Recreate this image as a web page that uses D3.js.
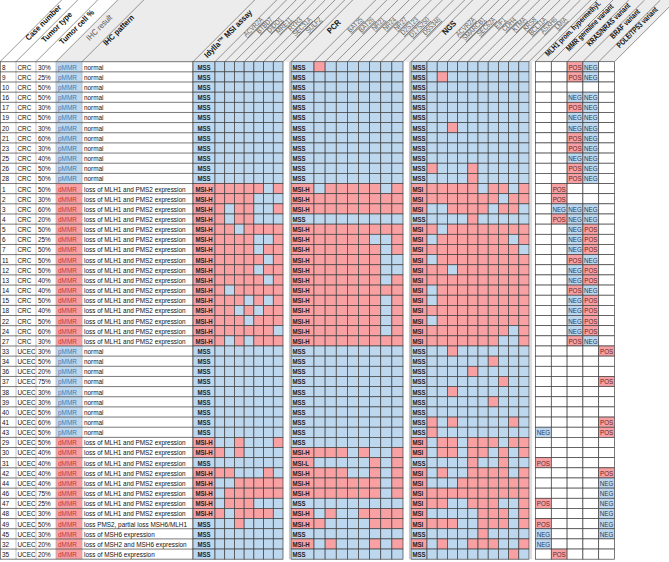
<!DOCTYPE html>
<html><head><meta charset="utf-8">
<script src="https://cdn.jsdelivr.net/npm/d3@7"></script>
<style>
body{margin:0;background:#fff}
svg{display:block}
text{font-family:'Liberation Sans','Arial',sans-serif}
</style>
</head><body>
<svg id="c" width="669" height="562"></svg>
<script>
// ---------------- DATA ----------------
const caseNumbers = [8,9,10,16,17,19,20,21,23,25,26,28,1,2,3,4,5,6,7,11,12,13,14,15,18,22,24,27,33,34,36,37,38,39,40,41,43,29,30,31,42,44,46,47,48,49,45,32,35];
const tumorTypes = ["CRC","CRC","CRC","CRC","CRC","CRC","CRC","CRC","CRC","CRC","CRC","CRC",
  "CRC","CRC","CRC","CRC","CRC","CRC","CRC","CRC","CRC","CRC","CRC","CRC","CRC","CRC","CRC","CRC",
  "UCEC","UCEC","UCEC","UCEC","UCEC","UCEC","UCEC","UCEC","UCEC",
  "UCEC","UCEC","UCEC","UCEC","UCEC","UCEC","UCEC","UCEC","UCEC","UCEC","UCEC","UCEC"];
const tumorCellPct = [30,25,50,50,30,50,30,60,30,40,50,50,
  50,30,60,20,50,25,50,50,50,40,40,50,40,50,60,30,
  30,50,20,75,30,30,50,60,50,
  50,40,40,40,40,75,25,30,50,30,20,20];
const ihcResults = ["pMMR","pMMR","pMMR","pMMR","pMMR","pMMR","pMMR","pMMR","pMMR","pMMR","pMMR","pMMR",
  "dMMR","dMMR","dMMR","dMMR","dMMR","dMMR","dMMR","dMMR","dMMR","dMMR","dMMR","dMMR","dMMR","dMMR","dMMR","dMMR",
  "pMMR","pMMR","pMMR","pMMR","pMMR","pMMR","pMMR","pMMR","pMMR",
  "dMMR","dMMR","dMMR","dMMR","dMMR","dMMR","dMMR","dMMR","dMMR","dMMR","dMMR","dMMR"];
const LMP = "loss of MLH1 and PMS2 expression";
const ihcPatterns = ["normal","normal","normal","normal","normal","normal","normal","normal","normal","normal","normal","normal",
  LMP,LMP,LMP,LMP,LMP,LMP,LMP,LMP,LMP,LMP,LMP,LMP,LMP,LMP,LMP,LMP,
  "normal","normal","normal","normal","normal","normal","normal","normal","normal",
  LMP,LMP,LMP,LMP,LMP,LMP,LMP,LMP,"loss PMS2, partial loss MSH6/MLH1",
  "loss of MSH6 expression","loss of MSH2 and MSH6 expression","loss of MSH6 expression"];

const idyllaMarkers = ["ACVR2A","BTBD7","DIDO1","MRE11","RYR3","SEC31A","SULF2"];
const pcrMarkers = ["BAT25","BAT26","NR21","NR24","NR27","D2S123","D17S250","D5S346"];
const ngsMarkers = ["ACVR2A","SMARCB1","SEC62A","EIF1","CDH4","KTMA","KRS8","BCL11A","ASXH6","LMIA"];

const idyllaResult = ["MSS","MSS","MSS","MSS","MSS","MSS","MSS","MSS","MSS","MSS","MSS","MSS",
  "MSI-H","MSI-H","MSI-H","MSI-H","MSI-H","MSI-H","MSI-H","MSI-H","MSI-H","MSI-H","MSI-H","MSI-H","MSI-H","MSI-H","MSI-H","MSI-H",
  "MSS","MSS","MSS","MSS","MSS","MSS","MSS","MSS","MSS",
  "MSI-H","MSI-H","MSS","MSI-H","MSI-H","MSI-H","MSI-H","MSI-H","MSS","MSS","MSS","MSS"];
const pcrResult = ["MSS","MSS","MSS","MSS","MSS","MSS","MSS","MSS","MSS","MSS","MSS","MSS",
  "MSI-H","MSI-H","MSI-H","MSS","MSI-H","MSI-H","MSI-H","MSI-H","MSI-H","MSI-H","MSI-H","MSI-H","MSI-H","MSI-H","MSI-H","MSI-H",
  "MSS","MSS","MSS","MSS","MSS","MSS","MSS","MSS","MSS",
  "MSS","MSI-H","MSI-L","MSI-H","MSI-H","MSI-H","MSS","MSI-H","MSI-H","MSS","MSI-H","MSS"];
const ngsResult = ["MSS","MSS","MSS","MSS","MSS","MSS","MSS","MSS","MSS","MSS","MSS","MSS",
  "MSI","MSI","MSI","MSS","MSI","MSI","MSI","MSI","MSI","MSI","MSI","MSI","MSI","MSI","MSI","MSI",
  "MSS","MSS","MSS","MSS","MSS","MSS","MSS","MSS","MSS",
  "MSI","MSI","MSS","MSI","MSI","MSI","MSI","MSI","MSI","MSS","MSI","MSS"];

// 1 = unstable (red), 0 = stable (blue)
const idyllaCalls = ["0000000","0000000","0000000","0000000","0000000","0000000","0000000","0000000","0000000","0000000","0000000","0000000",
  "1111101","1111000","1011001","1011000","1101111","1111001","1111011","1111101","1111011","1111101","1011111","1110101","1101011","1110111","1111110","1010111",
  "0000000","0000000","0000000","0000000","0000000","0000000","0000000","0000000","0000000",
  "0010001","1010000","0000000","1100010","0011111","0111111","0111000","1011110","0010000","0000000","0000000","0000000"];
const pcrCalls = ["10000000","00000000","00000000","00000000","00000000","00000000","00000000","00000000","00000000","00000000","00000000","00000000",
  "01111101","11111111","11111111","00000000","11111111","11111001","11111101","11111100","11111100","11111101","11111111","11111101","11111101","11111101","11111101","11111111",
  "00000000","00000000","00000000","00000000","00000000","00000000","00000000","00000000","00000000",
  "00000000","11101001","00000101","11100101","11111101","11111101","00000000","01001111","10000111","00000000","01000101","00000000"];
const ngsCalls = ["0000000000","0100000000","0000000000","0000000000","0000000000","0000000000","0010000000","0000000000","0000000000","0000000000","1000100000","0000100000",
  "1111101101","1111111011","0011110110","0000100000","1011111111","0111111101","1111111110","0111111111","1101111111","1111111111","0111111111","0111111111","1111111111","0111111111","1111111101","1111111001",
  "0010000000","0000001000","0000100000","0000000100","0010000000","0000001000","0000000000","1010000010","1000000000",
  "0110111011","0110110101","0000100100","0100111101","0001111111","1111111111","1100111001","0000011101","1110011101","0000010000","0100111001","0000000010"];

const extraColumns = ["MLH1 prom. hypermethyl.","MMR germline variant","KRAS/NRAS variant","BRAF variant","POLE/TP53 variant"];
const P = "POS", N = "NEG", _ = "";
const mlh1Methylation = [_,_,_,_,_,_,_,_,_,_,_,_, _,_,_,_,_,_,_,_,_,_,_,_,_,_,_,_, _,_,_,_,_,_,_,_,N, _,_,P,_,_,_,P,_,P,N,N,_];
const mmrGermline     = [_,_,_,_,_,_,_,_,_,_,_,_, P,P,N,P,_,_,_,_,_,_,_,_,_,_,_,_, _,_,_,_,_,_,_,_,_, _,_,_,_,_,_,_,_,_,_,_,P];
const krasNras        = [P,P,_,N,P,N,N,P,P,N,P,P, _,_,N,N,N,N,N,P,N,N,P,N,N,N,N,P, _,_,_,_,_,_,_,_,_, _,_,_,_,_,_,_,_,_,_,_,_];
const brafVariant     = [N,N,_,N,N,N,N,N,N,N,N,N, _,_,N,N,P,P,P,N,P,P,N,P,P,P,P,N, _,_,_,_,_,_,_,_,_, _,_,_,_,_,_,_,_,_,_,_,_];
const poleTp53        = [_,_,_,_,_,_,_,_,_,_,_,_, _,_,_,_,_,_,_,_,_,_,_,_,_,_,_,_, P,_,_,P,_,_,_,P,P, _,_,_,P,N,N,N,N,N,N,_,_];
const extraValues = [mlh1Methylation, mmrGermline, krasNras, brafVariant, poleTp53];

// ---------------- DRAW ----------------
const BLUE = "#bdd7ee", RED = "#f9a0a3", GRID = "#404040", LIGHT = "#b5b5b5";
const SX = 0.8; // horizontal condensing (Calibri-like narrow text)
const svg = d3.select("#c");
const nRows = caseNumbers.length;
const HB = 61.7; // header bottom
const y = d3.scaleBand().domain(d3.range(nRows)).range([HB, 559.2]);
const rh = y.bandwidth();
const fs = 8;
const ty = i => y(i) + rh/2 + 2.9;

// --- header ---
const header = svg.append("g");
const hcols = [];
hcols.push({x0:0,x1:16,label:"Case number",bold:true,fill:"#fff",endY:8});
hcols.push({x0:16,x1:36,label:"Tumor type",bold:true,fill:"#fff",endY:15});
hcols.push({x0:36,x1:56,label:"Tumor cell %",bold:true,fill:"#fff",endY:13});
hcols.push({x0:56,x1:82,label:"IHC result",bold:false,fill:"#ececec",endY:18});
hcols.push({x0:82,x1:193,label:"IHC pattern",bold:true,fill:"#ececec",endY:18,ax:91});

const groups = [
  {res:[193,215], mk:[215,283], label:"Idylla™ MSI assay", endY:13, names:idyllaMarkers, resVals:idyllaResult, calls:idyllaCalls, anchor:"middle"},
  {res:[291,314], mk:[314,403], label:"PCR", endY:23, names:pcrMarkers, resVals:pcrResult, calls:pcrCalls, anchor:"start"},
  {res:[411,427], mk:[427,529], label:"NGS", endY:24, names:ngsMarkers, resVals:ngsResult, calls:ngsCalls, anchor:"start"}
];
groups.forEach((g,gi) => {
  g.x = d3.scaleBand().domain(g.names).range(g.mk);
  hcols.push({x0:g.res[0],x1:g.res[1],label:g.label,bold:true,fill:"#ececec",endY:g.endY});
  g.names.forEach(n => hcols.push({x0:g.x(n),x1:g.x(n)+g.x.bandwidth(),label:n,marker:true,fill:"#ececec",endY:20}));
  const nextStart = gi < 2 ? groups[gi+1].res[0] : 535.5;
  hcols.push({x0:g.mk[1],x1:nextStart,label:"",fill:"#ececec"});
});
const xe = d3.scaleBand().domain(extraColumns).range([535.5,614.5]);
const extraEnd = [4,7,6,12,10];
extraColumns.forEach((c,i) => hcols.push({x0:xe(c),x1:xe(c)+xe.bandwidth(),label:c,bold:true,extra:true,fill:"#ececec",endY:extraEnd[i]}));

header.selectAll("path.hp").data(hcols).join("path")
  .attr("d", d => `M${d.x0},${HB}L${d.x1},${HB}L${d.x1+HB},0L${d.x0+HB},0Z`)
  .attr("fill", d => d.fill).attr("stroke","none");
header.selectAll("line.hl").data(hcols.concat([{x0:614.5}])).join("line")
  .attr("x1", d => d.x0).attr("y1", HB).attr("x2", d => d.x0+HB).attr("y2", 0)
  .attr("stroke", "#505050").attr("stroke-width", 0.6);
header.selectAll("text").data(hcols.filter(d => d.label)).join("text")
  .attr("transform", d => {
    const cx = d.ax !== undefined ? d.ax : (d.x0+d.x1)/2;
    const px = cx + (HB - d.endY) + (d.marker ? 2 : 0);
    const s = d.marker ? 0.85 : d.extra ? 0.78 : 0.9;
    return `translate(${px},${d.endY}) rotate(-45) scale(${s},1)`;
  })
  .attr("text-anchor","end")
  .attr("font-size", d => d.marker ? 7.2 : d.extra ? 7.8 : 8.2)
  .attr("font-weight", d => d.bold ? "bold" : "normal")
  .attr("fill", d => d.marker ? "#606060" : (d.bold ? "#111" : "#555"))
  .attr("text-decoration", d => d.marker ? "underline" : null)
  .text(d => d.label);

// --- text columns ---
const body = svg.append("g");
const rows = d3.range(nRows);
body.selectAll("rect.ihc").data(rows).join("rect")
  .attr("x",56).attr("y", i => y(i)).attr("width",26).attr("height",rh)
  .attr("fill", i => ihcResults[i] === "pMMR" ? BLUE : RED);
const textCols = [
  {x:2, vals:caseNumbers},
  {x:17.5, vals:tumorTypes},
  {x:38, vals:tumorCellPct.map(v => v + "%")},
  {x:58, vals:ihcResults, color:i => ihcResults[i] === "pMMR" ? "#4a76a8" : "#c0392b"},
  {x:84, vals:ihcPatterns}
];
textCols.forEach(tc => {
  body.append("g").selectAll("text").data(rows).join("text")
    .attr("transform", i => `translate(${tc.x},${ty(i)}) scale(${SX},1)`)
    .attr("font-size", fs).attr("fill", i => tc.color ? tc.color(i) : "#111")
    .text(i => tc.vals[i]);
});
// grid lines for text columns
[16,36,56,82].forEach(x => body.append("line").attr("x1",x).attr("x2",x).attr("y1",HB).attr("y2",559.2).attr("stroke",LIGHT).attr("stroke-width",0.8));
body.selectAll("line.hr").data(d3.range(nRows+1)).join("line")
  .attr("x1",0).attr("x2",193).attr("y1", i => i < nRows ? y(i) : 559.2).attr("y2", i => i < nRows ? y(i) : 559.2)
  .attr("stroke",GRID).attr("stroke-width",0.7);
[0.4,193].forEach(x => body.append("line").attr("x1",x).attr("x2",x).attr("y1",HB).attr("y2",559.2).attr("stroke",GRID).attr("stroke-width",0.7));

// --- marker groups ---
const isRed = v => v !== "MSS";
groups.forEach(g => {
  const gg = svg.append("g");
  gg.selectAll("rect.res").data(rows).join("rect")
    .attr("x", g.res[0]).attr("y", i => y(i)).attr("width", g.res[1]-g.res[0]).attr("height", rh)
    .attr("fill", i => isRed(g.resVals[i]) ? RED : BLUE).attr("stroke", GRID).attr("stroke-width", 0.7);
  const tx = g.anchor === "middle" ? (g.res[0]+g.res[1])/2 : g.res[0]+1.5;
  gg.selectAll("text.res").data(rows).join("text")
    .attr("transform", i => `translate(${tx},${ty(i)}) scale(${SX},1)`)
    .attr("text-anchor", g.anchor)
    .attr("font-size", 7.6).attr("font-weight","bold").attr("fill","#222")
    .text(i => g.resVals[i]);
  const cells = [];
  rows.forEach(i => g.names.forEach((n,k) => cells.push({i, n, v: g.calls[i][k]})));
  gg.selectAll("rect.mk").data(cells).join("rect")
    .attr("x", d => g.x(d.n)).attr("y", d => y(d.i)).attr("width", g.x.bandwidth()).attr("height", rh)
    .attr("fill", d => d.v === "1" ? RED : BLUE).attr("stroke", GRID).attr("stroke-width", 0.7);
});
// separators in gaps
[289.5, 409.5, 531].forEach(x => svg.append("line").attr("x1",x).attr("x2",x).attr("y1",HB).attr("y2",559.2).attr("stroke","#c8c8c8").attr("stroke-width",1.2));

// --- extra columns ---
const eg = svg.append("g");
const ecells = [];
rows.forEach(i => extraColumns.forEach((c,k) => ecells.push({i, c, v: extraValues[k][i]})));
eg.selectAll("rect").data(ecells).join("rect")
  .attr("x", d => xe(d.c)).attr("y", d => y(d.i)).attr("width", xe.bandwidth()).attr("height", rh)
  .attr("fill", d => d.v === "POS" ? RED : d.v === "NEG" ? BLUE : "#fff")
  .attr("stroke", GRID).attr("stroke-width", 0.7);
eg.selectAll("text").data(ecells.filter(d => d.v)).join("text")
  .attr("transform", d => `translate(${xe(d.c) + xe.bandwidth()/2},${ty(d.i)}) scale(${SX},1)`)
  .attr("text-anchor","middle")
  .attr("font-size", 7.8)
  .attr("fill", d => d.v === "POS" ? "#5a2b2b" : "#1f3a5a")
  .text(d => d.v);
</script>
</body></html>
